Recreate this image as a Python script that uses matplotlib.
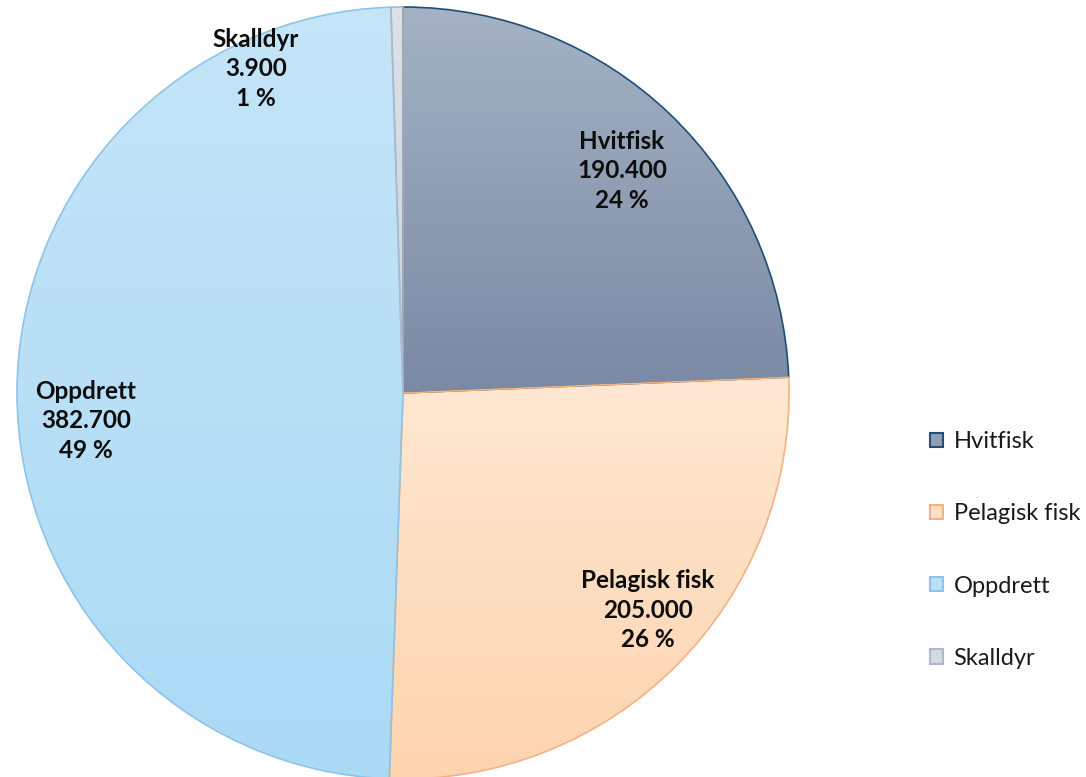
import numpy as np
import matplotlib.pyplot as plt
from matplotlib.colors import LinearSegmentedColormap, to_rgb
from matplotlib.patches import Patch

# data
names = ['Hvitfisk', 'Pelagisk fisk', 'Oppdrett', 'Skalldyr']
values = [190400, 205000, 382700, 3900]
value_txt = ['190.400', '205.000', '382.700', '3.900']
pct_txt = ['24 %', '26 %', '49 %', '1 %']

# style
top_cols = ['#A4B2C4', '#FFE8D3', '#C5E5F8', '#DCE0E7']
bot_cols = ['#7A8AA4', '#FDD4AF', '#ABDAF5', '#CDD3DC']
edge_cols = ['#1F4E79', '#F4B183', '#8FC3E8', '#ADB9CA']
label_pos = [(622, 606), (648, 167), (86, 356), (256, 708)]

plt.rcParams['font.family'] = ['Lato', 'DejaVu Sans']

W, H = 1086, 777
fig = plt.figure(figsize=(W / 100, H / 100), dpi=100)
ax = fig.add_axes([0, 0, 1, 1])

cx, cy, R = 403, 384, 386
wedges, _ = ax.pie(values, center=(cx, cy), radius=R, startangle=90,
                   counterclock=False, frame=True)
ax.set_xlim(0, W)
ax.set_ylim(0, H)
ax.set_aspect('equal')
ax.axis('off')

grad = np.linspace(0, 1, 256).reshape(-1, 1)
for i, w in enumerate(wedges):
    w.set_facecolor('none')
    w.set_edgecolor(edge_cols[i])
    w.set_linewidth(1.2)
    w.set_zorder(3)
    ext = w.get_path().get_extents()
    cmap = LinearSegmentedColormap.from_list('g%d' % i, [bot_cols[i], top_cols[i]])
    im = ax.imshow(grad, cmap=cmap, origin='lower', aspect='auto',
                   extent=[ext.x0, ext.x1, ext.y0, ext.y1], zorder=2)
    im.set_clip_path(w)

for i in range(len(names)):
    ax.text(label_pos[i][0], label_pos[i][1],
            '%s\n%s\n%s' % (names[i], value_txt[i], pct_txt[i]),
            ha='center', va='center', fontsize=17.5, fontweight='bold',
            color='#0D0D0D', linespacing=1.35, zorder=5)

ax.set_xlim(0, W)
ax.set_ylim(0, H)
ax.set_aspect('equal')

handles = [Patch(facecolor=(np.array(to_rgb(top_cols[i])) + np.array(to_rgb(bot_cols[i]))) / 2,
                 edgecolor=edge_cols[i], linewidth=1.5) for i in range(len(names))]
fig.legend(handles, names, loc='center left', bbox_to_anchor=(930 / W, 1 - 550 / H),
           frameon=False, fontsize=17, labelspacing=2.17, handlelength=0.55,
           handleheight=0.55, handletextpad=0.45, borderpad=0, borderaxespad=0,
           labelcolor='#1A1A1A')

fig.savefig('out.png', dpi=100)
